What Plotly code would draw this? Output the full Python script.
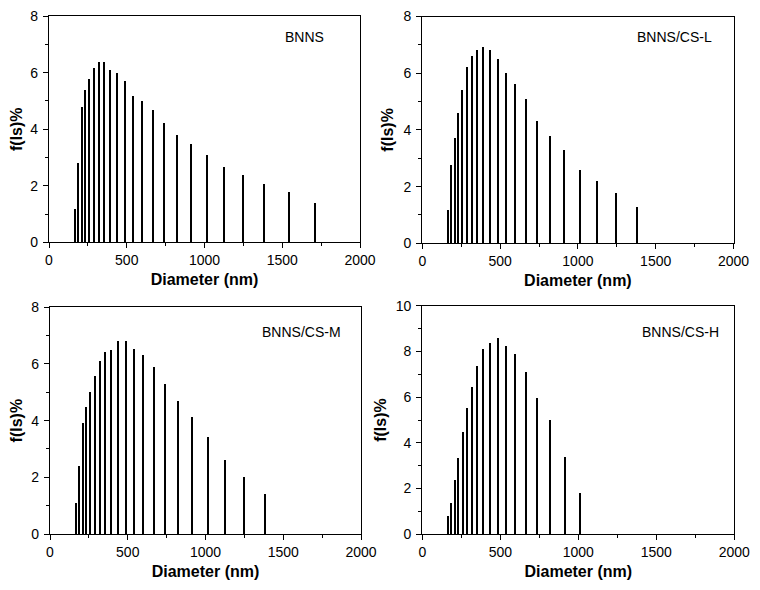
import plotly.graph_objects as go

# Common DLS size bins (nm)
diameters = [171, 189, 212, 235, 261, 289, 321, 355, 393, 438, 488, 540,
             600, 669, 741, 823, 916, 1015, 1124, 1246, 1385, 1543, 1712]

bnns = [1.17, 2.79, 4.79, 5.37, 5.78, 6.17, 6.38, 6.38, 6.10, 5.98, 5.70, 5.18,
        4.99, 4.68, 4.20, 3.78, 3.47, 3.07, 2.67, 2.37, 2.06, 1.76, 1.38]
bnns_cs_l = [1.18, 2.79, 3.73, 4.61, 5.41, 6.25, 6.62, 6.82, 6.93, 6.82, 6.53,
             6.01, 5.62, 5.11, 4.32, 3.82, 3.31, 2.62, 2.21, 1.80, 1.29]
bnns_cs_m = [1.08, 2.39, 3.91, 4.48, 5.00, 5.58, 6.09, 6.41, 6.49, 6.81, 6.81,
             6.53, 6.29, 5.89, 5.29, 4.67, 4.11, 3.40, 2.59, 2.00, 1.41]
bnns_cs_h = [0.80, 1.39, 2.38, 3.36, 4.47, 5.55, 6.47, 7.39, 8.10, 8.38, 8.58,
             8.26, 7.88, 7.11, 5.97, 5.01, 3.39, 1.80]

labels = ["BNNS", "BNNS/CS-L", "BNNS/CS-M", "BNNS/CS-H"]
series = [bnns, bnns_cs_l, bnns_cs_m, bnns_cs_h]
y_max = [8, 8, 8, 10]
x_ticks = [0, 500, 1000, 1500, 2000]

# page body has an 8px default margin, so the figure is drawn 8px in
OFF = 8
W, H = 744, 572
# plot areas in window pixels: (left, right, top, bottom)
boxes = [(49, 360, 16.2, 242.3), (422.3, 733.5, 16.5, 243.3),
         (50, 361, 307.3, 534), (422.3, 734.3, 305.7, 534.3)]
label_pos = [(0.89, 0.907), (0.936, 0.909), (0.941, 0.892), (0.956, 0.884)]

FONT = "Arial, Liberation Sans, sans-serif"
fig = go.Figure()
layout = {}
annotations = []
for i, (vals, lab, ym, box) in enumerate(zip(series, labels, y_max, boxes)):
    n = i + 1
    xa = "x" if n == 1 else f"x{n}"
    ya = "y" if n == 1 else f"y{n}"
    fig.add_trace(go.Bar(x=diameters[:len(vals)], y=vals, width=9,
                         marker=dict(color="black", line=dict(width=0)),
                         xaxis=xa, yaxis=ya, showlegend=False))
    l, r, t, b = [v - OFF for v in box]
    axcommon = dict(showline=True, linewidth=1.3, linecolor="black", mirror=True,
                    ticks="outside", ticklen=5, tickwidth=1.2, tickcolor="black",
                    showgrid=False, zeroline=False, automargin=False,
                    tickfont=dict(family=FONT, size=14, color="black"))
    layout[f"xaxis{n if n > 1 else ''}"] = dict(
        axcommon, domain=[l / W, r / W], anchor=ya, range=[0, 2000],
        tickvals=x_ticks,
        minor=dict(dtick=250, ticks="outside", ticklen=3, tickwidth=1.2, tickcolor="black"),
        title=dict(text="<b>Diameter (nm)</b>", standoff=6,
                   font=dict(family=FONT, size=16, color="black")))
    layout[f"yaxis{n if n > 1 else ''}"] = dict(
        axcommon, domain=[1 - b / H, 1 - t / H], anchor=xa, range=[0, ym],
        dtick=2, ticklabelstandoff=2,
        minor=dict(dtick=1, ticks="outside", ticklen=3, tickwidth=1.2, tickcolor="black"),
        title=dict(text="<b>f(Is)%</b>", standoff=5,
                   font=dict(family=FONT, size=16, color="black")))
    lx, ly = label_pos[i]
    annotations.append(dict(text=lab, xref=f"{xa} domain", yref=f"{ya} domain",
                            x=lx, y=ly, xanchor="right", yanchor="middle",
                            showarrow=False,
                            font=dict(family=FONT, size=14, color="black")))

fig.update_layout(**layout)
fig.update_layout(width=W, height=H, margin=dict(l=0, r=0, t=0, b=0),
                  plot_bgcolor="white", paper_bgcolor="white",
                  bargap=0, annotations=annotations, barmode="overlay")
fig.write_html("out.html")
